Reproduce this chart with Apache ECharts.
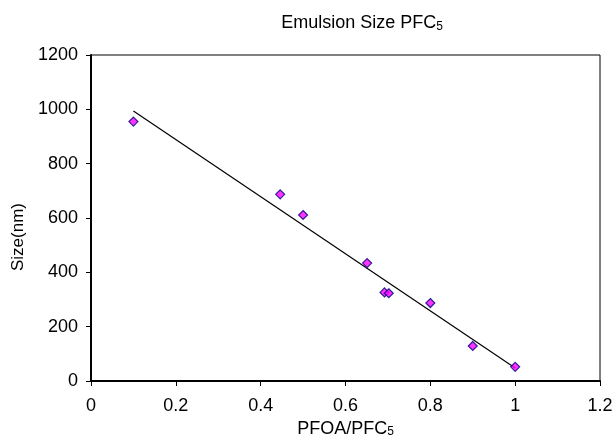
<!DOCTYPE html>
<html>
<head>
<meta charset="utf-8">
<script src="https://cdn.jsdelivr.net/npm/echarts@6/dist/echarts.min.js"></script>
<style>html,body{margin:0;padding:0;background:#fff;}#c{width:614px;height:438px;}</style>
</head>
<body>
<div id="c"></div>
<script>
// Data
var ratio = [0.1, 0.446, 0.5, 0.651, 0.692, 0.702, 0.8, 0.9, 1.0];
var sizeNm = [955, 687, 611, 434, 326, 323, 287, 129, 52];
var xTicks = ['0', '0.2', '0.4', '0.6', '0.8', '1', '1.2'];
var yTicks = ['0', '200', '400', '600', '800', '1000', '1200'];

// Least-squares linear trendline from the data
var n = ratio.length, mx = 0, my = 0;
for (var i = 0; i < n; i++) { mx += ratio[i]; my += sizeNm[i]; }
mx /= n; my /= n;
var sxy = 0, sxx = 0;
for (var i = 0; i < n; i++) { sxy += (ratio[i]-mx)*(sizeNm[i]-my); sxx += (ratio[i]-mx)*(ratio[i]-mx); }
var slope = sxy / sxx, intercept = my - slope * mx;
var xmin = Math.min.apply(null, ratio), xmax = Math.max.apply(null, ratio);
var trend = [[xmin, intercept + slope*xmin], [xmax, intercept + slope*xmax]];

var points = ratio.map(function(x, i){ return [x, sizeNm[i]]; });
var FONT = '"Liberation Sans", Arial, sans-serif';
function sub(size, pad) {
  return { fontFamily: FONT, fontSize: size, verticalAlign: 'bottom', padding: [pad,0,0,0], color: '#000' };
}

var chart = echarts.init(document.getElementById('c'), null, {renderer: 'canvas'});
chart.setOption({
  animation: false,
  backgroundColor: '#fff',
  title: {
    text: 'Emulsion Size PFC{s|5}',
    left: 357, top: 9, textAlign: 'center',
    textStyle: {
      fontFamily: FONT, fontSize: 18, fontWeight: 'normal', color: '#000',
      rich: { s: sub(12, 7) }
    }
  },
  grid: { left: 91, right: 14, top: 55, bottom: 57, show: true, borderColor: '#000', borderWidth: 1,
          outerBoundsMode: 'none', containLabel: false },
  xAxis: {
    type: 'value', min: 0, max: 1.2, interval: 0.2,
    name: 'PFOA/PFC{s|5}', nameLocation: 'middle', nameGap: 39,
    nameTextStyle: { fontFamily: FONT, fontSize: 18, color: '#000', rich: { s: sub(12, 6) } },
    axisLine: { show: true, onZero: false, lineStyle: { color: '#000', width: 2 } },
    axisTick: { show: true, inside: false, length: 5, lineStyle: { color: '#000', width: 1 } },
    axisLabel: { fontFamily: FONT, fontSize: 18, color: '#000', margin: 16,
      formatter: function(v){ return xTicks[Math.round(v / 0.2)]; } },
    splitLine: { show: false }
  },
  yAxis: {
    type: 'value', min: 0, max: 1200, interval: 200,
    name: 'Size(nm)', nameLocation: 'middle', nameGap: 64,
    nameTextStyle: { fontFamily: FONT, fontSize: 17, color: '#000', padding: [0, 38, 0, 0] },
    axisLine: { show: true, onZero: false, lineStyle: { color: '#000', width: 2 } },
    axisTick: { show: true, inside: false, length: 5, lineStyle: { color: '#000', width: 1 } },
    axisLabel: { fontFamily: FONT, fontSize: 18, color: '#000', margin: 13,
      formatter: function(v){ return yTicks[Math.round(v / 200)]; } },
    splitLine: { show: false }
  },
  series: [
    {
      type: 'line', data: trend, symbol: 'none', silent: true,
      lineStyle: { color: '#000', width: 1.2 }, z: 2
    },
    {
      type: 'scatter', data: points, symbol: 'diamond', symbolSize: 9,
      itemStyle: { color: '#FF00FF', borderColor: '#000080', borderWidth: 1.2 }, z: 3
    }
  ]
});
</script>
</body>
</html>
